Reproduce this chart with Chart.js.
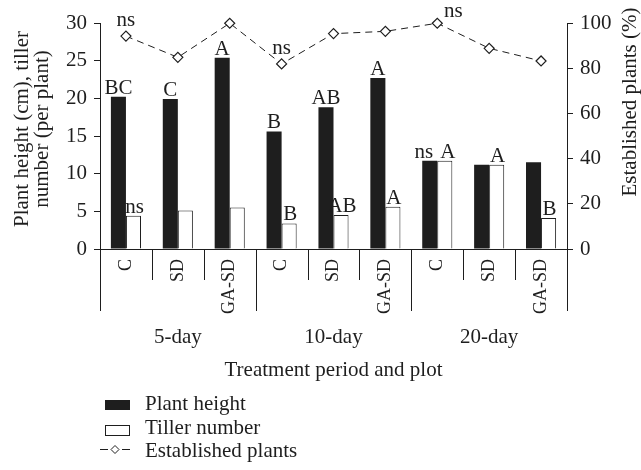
<!DOCTYPE html>
<html>
<head>
<meta charset="utf-8">
<script src="https://cdn.jsdelivr.net/npm/chart.js@4.4.0/dist/chart.umd.min.js"></script>
<style>
html, body { margin: 0; padding: 0; background: #fff; }
#wrap { width: 641px; height: 470px; }
</style>
</head>
<body>
<div id="wrap"><canvas id="chart" width="641" height="470"></canvas></div>
<script>
// categories
const plots = ['C', 'SD', 'GA-SD', 'C', 'SD', 'GA-SD', 'C', 'SD', 'GA-SD'];
const periods = ['5-day', '10-day', '20-day'];

// series
const plantHeight = [20.2, 19.9, 25.4, 15.6, 18.8, 22.7, 11.7, 11.2, 11.5];
const tillerNumber = [4.4, 5.1, 5.5, 3.4, 4.5, 5.6, 11.7, 11.2, 4.1];
const establishedPlants = [94.2, 84.8, 99.9, 81.9, 95.3, 96.3, 99.9, 88.8, 83.2];

// significance letters
const heightLetters = ['BC', 'C', 'A', 'B', 'AB', 'A', 'ns', '', ''];
const tillerLetters = ['ns', '', '', 'B', 'AB', 'A', 'A', 'A', 'B'];
const establishedLetters = ['ns', '', '', 'ns', '', '', 'ns', '', ''];

const FONT = 'Liberation Serif';
const INK = '#1e1e1e';

const decorations = {
    id: 'decorations',
    afterDraw(chart) {
        const ctx = chart.ctx;
        const area = chart.chartArea;
        const x = chart.scales.x;
        const half = (x.getPixelForValue(1) - x.getPixelForValue(0)) / 2;

        ctx.save();
        ctx.strokeStyle = INK;
        ctx.fillStyle = INK;
        ctx.lineWidth = 1;

        // x axis line and separators
        ctx.beginPath();
        ctx.moveTo(area.left, area.bottom + 0.5);
        ctx.lineTo(area.right, area.bottom + 0.5);
        for (let i = 0; i <= plots.length; i++) {
            const px = Math.round(x.getPixelForValue(i) - half) + 0.5;
            const len = i % 3 === 0 ? 62 : 31;
            ctx.moveTo(px, area.bottom);
            ctx.lineTo(px, area.bottom + len);
        }
        ctx.stroke();

        // period labels
        ctx.font = '21px "' + FONT + '"';
        ctx.textAlign = 'center';
        ctx.textBaseline = 'middle';
        periods.forEach((p, g) => {
            const cx = x.getPixelForValue(g * 3 + 1);
            ctx.fillText(p, cx, area.bottom + 88);
        });
        ctx.fillText('Treatment period and plot', (area.left + area.right) / 2, area.bottom + 121);

        // axis titles
        ctx.save();
        ctx.translate(22, 129);
        ctx.rotate(-Math.PI / 2);
        ctx.fillText('Plant height (cm), tiller', 0, 0);
        ctx.fillText('number (per plant)', 0, 20);
        ctx.restore();
        ctx.save();
        ctx.translate(630, 102);
        ctx.rotate(-Math.PI / 2);
        ctx.fillText('Established plants (%)', 0, 0);
        ctx.restore();

        // letters above bars
        ctx.textBaseline = 'bottom';
        const hMeta = chart.getDatasetMeta(0).data;
        const tMeta = chart.getDatasetMeta(1).data;
        const eMeta = chart.getDatasetMeta(2).data;
        heightLetters.forEach((t, i) => {
            if (!t) return;
            // nudge apart when both labels sit at the same height
            const clash = tillerLetters[i] && Math.abs(hMeta[i].y - tMeta[i].y) < 15;
            ctx.fillText(t, hMeta[i].x - (clash ? 6 : 0), hMeta[i].y + 2);
        });
        tillerLetters.forEach((t, i) => {
            if (!t) return;
            const clash = heightLetters[i] && Math.abs(hMeta[i].y - tMeta[i].y) < 15;
            ctx.fillText(t, tMeta[i].x + (clash ? 3 : 1), tMeta[i].y + 2);
        });
        establishedLetters.forEach((t, i) => {
            if (!t) return;
            const pt = eMeta[i];
            if (establishedPlants[i] >= 99) {
                ctx.fillText(t, pt.x + 16, pt.y - 1);
            } else {
                ctx.fillText(t, pt.x, pt.y - 5);
            }
        });

        // legend
        ctx.textAlign = 'left';
        ctx.textBaseline = 'middle';
        ctx.fillRect(105, 400, 25, 10);
        ctx.fillText('Plant height', 145, 404);
        ctx.strokeRect(105.5, 425.5, 24, 10);
        ctx.fillText('Tiller number', 145, 428);
        ctx.beginPath();
        ctx.moveTo(100, 449.5); ctx.lineTo(108, 449.5);
        ctx.moveTo(122, 449.5); ctx.lineTo(130, 449.5);
        ctx.stroke();
        ctx.beginPath();
        ctx.moveTo(115, 445.5); ctx.lineTo(119, 449.5);
        ctx.lineTo(115, 453.5); ctx.lineTo(111, 449.5);
        ctx.closePath();
        ctx.fillStyle = '#fff';
        ctx.fill();
        ctx.stroke();
        ctx.fillStyle = INK;
        ctx.fillText('Established plants', 145, 451);

        ctx.restore();
    }
};

new Chart(document.getElementById('chart'), {
    type: 'bar',
    data: {
        labels: plots,
        datasets: [{
            label: 'Plant height',
            data: plantHeight,
            backgroundColor: INK,
            borderWidth: 0,
            yAxisID: 'y',
            order: 2
        }, {
            label: 'Tiller number',
            data: tillerNumber,
            backgroundColor: '#fff',
            borderColor: INK,
            borderWidth: 1,
            yAxisID: 'y',
            order: 2
        }, {
            type: 'line',
            label: 'Established plants',
            data: establishedPlants,
            yAxisID: 'y2',
            borderColor: INK,
            borderWidth: 1,
            borderDash: [7, 5],
            fill: false,
            pointStyle: 'rectRot',
            pointRadius: 5,
            pointBackgroundColor: '#fff',
            pointBorderColor: INK,
            pointBorderWidth: 1.2,
            clip: false,
            order: 1
        }]
    },
    options: {
        responsive: false,
        animation: false,
        layout: { padding: { top: 23, left: 0, right: 0, bottom: 0 } },
        datasets: {
            bar: { categoryPercentage: 0.58, barPercentage: 1.0 }
        },
        plugins: {
            legend: { display: false },
            tooltip: { enabled: false }
        },
        scales: {
            x: {
                offset: true,
                grid: { display: false },
                border: { display: false },
                ticks: {
                    color: INK,
                    font: { family: FONT, size: 18 },
                    minRotation: 90,
                    maxRotation: 90,
                    padding: 2
                },
                afterFit: s => { s.height = 221; }
            },
            y: {
                position: 'left',
                min: 0,
                max: 30,
                ticks: {
                    stepSize: 5,
                    color: INK,
                    font: { family: FONT, size: 21 },
                    padding: 7
                },
                grid: { drawOnChartArea: false, tickLength: 6, color: INK },
                border: { display: true, color: INK },
                afterFit: s => { s.width = 100; }
            },
            y2: {
                position: 'right',
                min: 0,
                max: 100,
                ticks: {
                    stepSize: 20,
                    color: INK,
                    font: { family: FONT, size: 21 },
                    padding: 7
                },
                grid: { drawOnChartArea: false, tickLength: 6, color: INK },
                border: { display: true, color: INK },
                afterFit: s => { s.width = 74; }
            }
        }
    },
    plugins: [decorations]
});
</script>
</body>
</html>
